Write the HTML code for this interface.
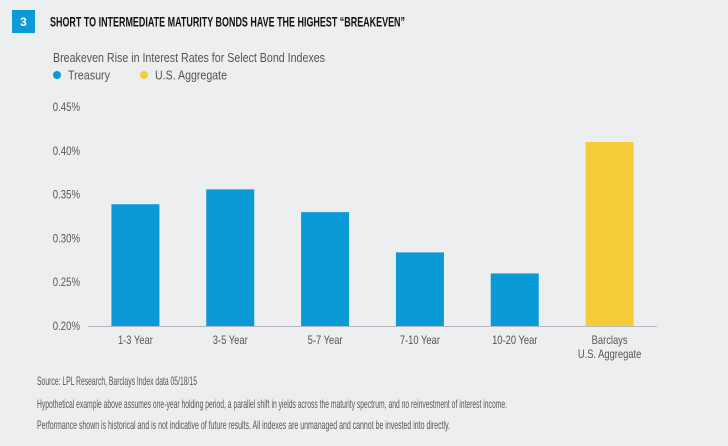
<!DOCTYPE html>
<html><head><meta charset="utf-8"><style>
body{margin:0;background:#edeef0;}
svg{display:block;font-family:"Liberation Sans Narrow","Liberation Sans",sans-serif;}
</style></head><body>
<svg width="728" height="446" viewBox="0 0 728 446">
<rect x="0" y="0" width="728" height="446" fill="#edeef0"/>
<rect x="12" y="10" width="23" height="23" fill="#0a9ad8"/>
<text x="23.5" y="26" text-anchor="middle" font-size="12" font-weight="bold" fill="#fff">3</text>
<text x="50" y="26.5" font-size="14" font-weight="bold" fill="#111" textLength="355" lengthAdjust="spacingAndGlyphs">SHORT TO INTERMEDIATE MATURITY BONDS HAVE THE HIGHEST “BREAKEVEN”</text>
<text x="53" y="62" font-size="13" fill="#555" textLength="272" lengthAdjust="spacingAndGlyphs">Breakeven Rise in Interest Rates for Select Bond Indexes</text>
<g>
<circle cx="57" cy="75" r="4" fill="#0a9ad8"/>
<text x="68" y="79.5" font-size="13" fill="#555" textLength="42" lengthAdjust="spacingAndGlyphs">Treasury</text></g>
<g>
<circle cx="144" cy="75" r="4" fill="#f5cc3a"/>
<text x="155" y="79.5" font-size="13" fill="#555" textLength="72" lengthAdjust="spacingAndGlyphs">U.S. Aggregate</text></g>
<g id="yaxis"></g>
<g id="bars"></g>
<g id="xaxis"></g>
<g font-size="12" fill="#555">
<text x="37" y="385" textLength="160" lengthAdjust="spacingAndGlyphs">Source: LPL Research, Barclays Index data 05/18/15</text>
<text x="37" y="408" textLength="470" lengthAdjust="spacingAndGlyphs">Hypothetical example above assumes one-year holding period, a parallel shift in yields across the maturity spectrum, and no reinvestment of interest income.</text>
<text x="37" y="429" textLength="413" lengthAdjust="spacingAndGlyphs">Performance shown is historical and is not indicative of future results. All indexes are unmanaged and cannot be invested into directly.</text>
</g>
</svg>
<script>
const categories = [["1-3 Year"],["3-5 Year"],["5-7 Year"],["7-10 Year"],["10-20 Year"],["Barclays","U.S. Aggregate"]];
const values = [0.339, 0.356, 0.330, 0.284, 0.260, 0.410];
const seriesType = ["treasury","treasury","treasury","treasury","treasury","aggregate"];
const yTicks = [0.20, 0.25, 0.30, 0.35, 0.40, 0.45];
const yTickLabels = ["0.20%","0.25%","0.30%","0.35%","0.40%","0.45%"];
const NS="http://www.w3.org/2000/svg";
const x0=88, x1=657, yMin=0.20, yMax=0.45, yBase=326, yTop=107;
const band=(x1-x0)/categories.length, bw=48;
function y(v){return yBase-(v-yMin)/(yMax-yMin)*(yBase-yTop);}
function xc(i){return x0+band*(i+0.5);}
function mk(tag,attrs,parent){const e=document.createElementNS(NS,tag);for(const k in attrs)e.setAttribute(k,attrs[k]);parent.appendChild(e);return e;}
function condense(e,f){const w=e.getComputedTextLength();e.setAttribute('textLength',(w*f).toFixed(1));e.setAttribute('lengthAdjust','spacingAndGlyphs');}
const ya=document.getElementById('yaxis');
yTicks.forEach((t,i)=>{
  const e=mk('text',{x:80,y:y(t)+4,'text-anchor':'end','font-size':'12',fill:'#555'},ya);
  e.textContent=yTickLabels[i];
  
  
  condense(e,0.8);
});
const bg=document.getElementById('bars');
values.forEach((v,i)=>{
  const r=mk('rect',{x:xc(i)-bw/2,y:y(v),width:bw,height:yBase-y(v),fill:seriesType[i]==='aggregate'?'#f5cc3a':'#0a9ad8'},bg);
  
  
});
const xa=document.getElementById('xaxis');
const ln=mk('line',{x1:x0,x2:x1,y1:yBase+0.5,y2:yBase+0.5,stroke:'#b5b7ba','stroke-width':1},xa);


categories.forEach((c,i)=>{
  c.forEach((line,j)=>{
    const e=mk('text',{x:xc(i),y:344+j*14,'text-anchor':'middle','font-size':'12',fill:'#555'},xa);
    e.textContent=line;
    
    
    condense(e,0.78);
  });
});
</script>
</body></html>
